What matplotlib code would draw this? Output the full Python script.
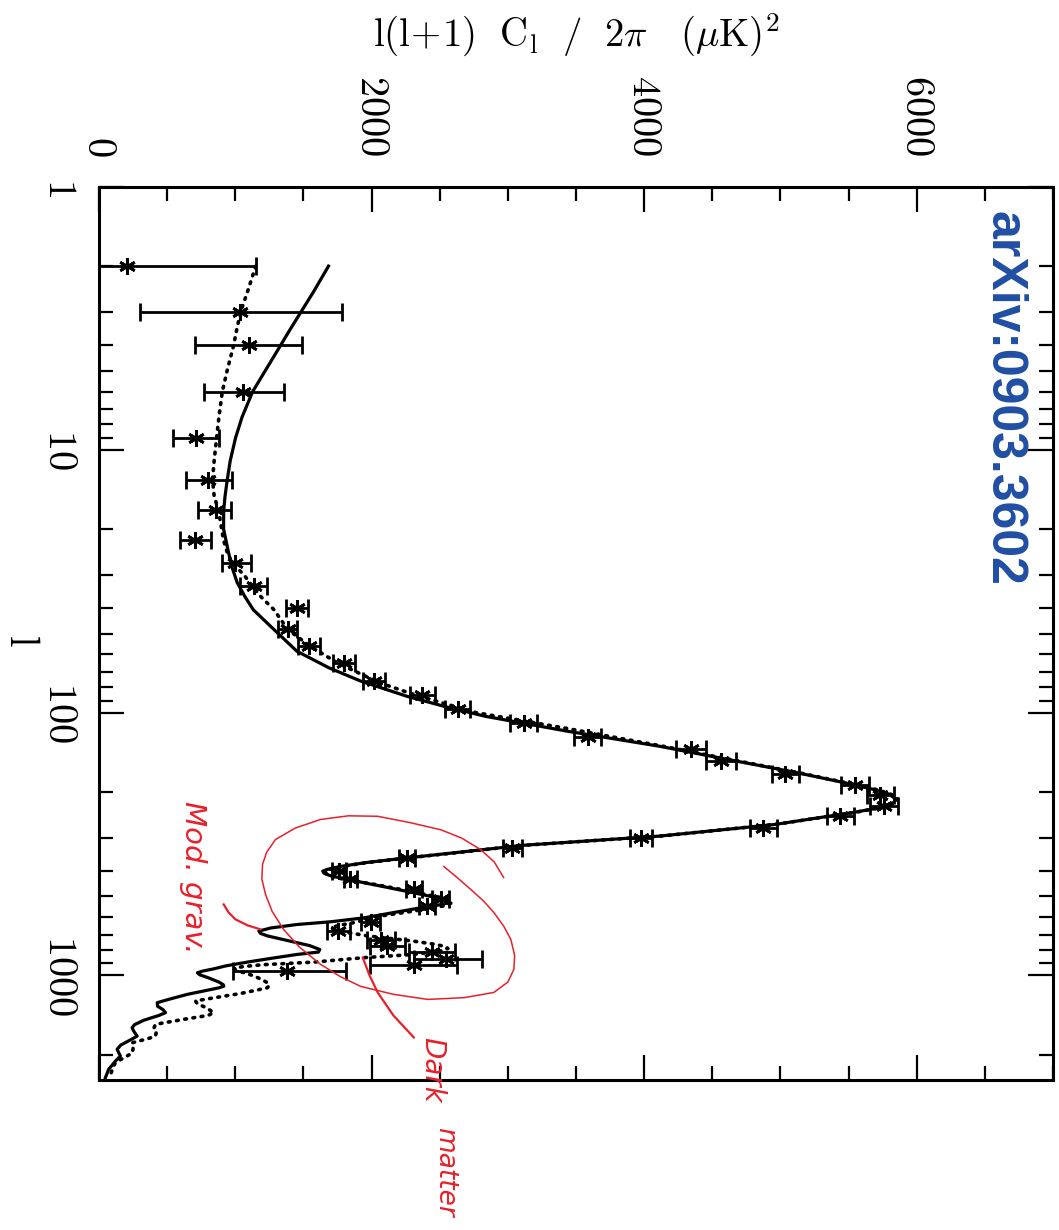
import numpy as np
import matplotlib
matplotlib.use('Agg')
import matplotlib.pyplot as plt
from matplotlib.ticker import FixedLocator, MultipleLocator, FuncFormatter, NullFormatter

plt.rcParams['mathtext.fontset'] = 'cm'

W, H = 1059, 1230

# binned data points (l, l(l+1)Cl/2pi, lower / upper error)
data_l = [2, 3, 4, 6, 9, 13, 17, 22, 27, 33,
          40, 48, 56, 65, 76, 86, 97, 110, 124, 138,
          153, 171, 188, 205, 227, 248, 274, 300, 327, 357,
          401, 430, 471, 514, 545, 628, 678, 733, 776, 815,
          865, 910, 965]
data_c = [208, 1038, 1097, 1053, 715, 803, 855, 708, 1001, 1134,
          1452, 1385, 1543, 1796, 2016, 2373, 2632, 3115, 3586, 4345,
          4564, 5036, 5548, 5733, 5760, 5440, 4874, 3974, 3034, 2262,
          1760, 1845, 2310, 2507, 2409, 1993, 1755, 2070, 2115, 2444,
          2543, 2310, 1381]
err_lo = [208, 734, 389, 286, 169, 161, 125, 110, 95, 96,
          80, 70, 80, 80, 80, 90, 90, 100, 100, 110,
          110, 100, 100, 100, 100, 100, 100, 80, 70, 60,
          50, 50, 60, 60, 60, 70, 85, 100, 130, 170,
          230, 320, 400]
err_hi = [942, 742, 396, 308, 169, 176, 110, 117, 111, 102,
          80, 70, 80, 80, 80, 90, 90, 100, 100, 110,
          110, 100, 100, 100, 100, 100, 100, 80, 70, 60,
          50, 50, 60, 60, 60, 70, 85, 100, 130, 170,
          270, 320, 430]

# solid model curve (modified gravity)
mg_l = [2, 2.5, 3, 3.5, 4, 5, 6, 7.5, 9, 11, 13, 15, 17, 20, 24, 28, 32, 36, 40.6, 48.3,
        58.4, 67.6, 76, 86.7, 94.6, 103.3, 117.8, 134.3, 151, 169.5, 187.7, 197, 205,
        213, 220, 230, 240, 266.5, 295, 320, 340, 357, 372, 385, 395, 401, 408, 418,
        431, 457, 485, 503, 514, 521, 530, 540, 553, 578, 604, 625, 640, 660, 678, 692,
        707, 741, 770, 797, 815, 832, 860, 890, 920, 944, 963, 977, 995, 1020, 1060,
        1085, 1098, 1115, 1140, 1180, 1230, 1270, 1310, 1350, 1386, 1420, 1480, 1540,
        1582, 1630, 1702, 1760, 1840, 1910, 1970, 2028, 2120, 2276, 2450]
mg_c = [1684, 1575, 1480, 1400, 1333, 1220, 1128, 1050, 1002, 963, 941, 925, 915, 914, 946,
        976, 1014, 1068, 1132, 1284, 1452, 1689, 1924, 2261, 2531, 2835, 3441, 4114, 4621,
        5127, 5531, 5700, 5801, 5845, 5832, 5730, 5531, 4958, 4114, 3104, 2640, 2262,
        1960, 1770, 1675, 1642, 1650, 1700, 1822, 2066, 2311, 2455, 2530, 2565, 2560,
        2490, 2360, 2150, 1943, 1700, 1454, 1260, 1173, 1185, 1234, 1405, 1545, 1620,
        1610, 1454, 1270, 1087, 930, 842, 760, 722, 740, 800, 880, 912, 916, 880, 790,
        650, 520, 427, 430, 470, 488, 440, 330, 260, 243, 255, 280, 230, 160, 133, 145,
        157, 120, 71, 47]

# dotted model curve (dark matter)
dm_l = [2, 2.5, 3, 3.5, 4, 5, 6, 7.5, 9, 11, 13, 15, 17, 20, 22, 25, 27, 30, 33, 36, 40.6,
        48.3, 56, 65, 77, 86, 100, 115, 134, 151, 170, 188, 197, 205, 213, 220, 230, 240,
        266, 295, 320, 340, 357, 372, 385, 395, 401, 410, 425, 457, 485, 503, 514, 522,
        532, 545, 569, 594, 630, 645, 658, 672, 707, 741, 762, 778, 790, 805, 832, 856,
        890, 910, 925, 939, 955, 975, 1004, 1040, 1070, 1090, 1115, 1172, 1220, 1250,
        1280, 1330, 1386, 1420, 1470, 1535, 1600, 1650, 1702, 1740, 1804, 1900, 1977,
        2060, 2148, 2250, 2400]
dm_c = [1150, 1090, 1038, 1010, 988, 940, 905, 880, 863, 845, 833, 845, 877, 900, 913, 945,
        980, 1065, 1125, 1183, 1284, 1385, 1552, 1756, 2059, 2330, 2767, 3439, 4130, 4640,
        5150, 5550, 5720, 5815, 5860, 5845, 5740, 5540, 4970, 4120, 3110, 2650, 2270,
        1970, 1780, 1690, 1660, 1665, 1740, 2090, 2340, 2490, 2560, 2590, 2580, 2520,
        2310, 2066, 1869, 1760, 1705, 1720, 1968, 2311, 2470, 2545, 2560, 2520, 2311,
        1943, 1576, 1209, 1060, 995, 1000, 1060, 1136, 1200, 1240, 1250, 1235, 1038, 830,
        708, 720, 790, 842, 800, 620, 414, 400, 420, 414, 360, 243, 250, 243, 180, 120,
        100, 84]

# hand drawn loop around the acoustic peaks
loop_l = [424, 370, 332, 300, 279, 262, 248, 247, 255, 275, 304, 340, 378, 430, 492, 570,
          668, 780, 908, 1010, 1101, 1180, 1234, 1215, 1161, 1060, 948, 840, 730, 650,
          576, 520, 471, 425, 385]
loop_c = [2969, 2900, 2800, 2660, 2507, 2280, 2044, 1830, 1626, 1440, 1295, 1230, 1200, 1195, 1222, 1270,
          1354, 1470, 1626, 1770, 1920, 2160, 2412, 2680, 2897, 3000, 3044, 3050, 3022, 2970,
          2897, 2820, 2728, 2630, 2530]
ptr_mg_l = [537, 575, 612, 645, 668]
ptr_mg_c = [915, 950, 1001, 1090, 1185]
ptr_dm_l = [855, 1000, 1161, 1420, 1722]
ptr_dm_c = [1935, 1985, 2045, 2160, 2310]

red = '#e8202a'

fig = plt.figure(figsize=(W / 100, H / 100), dpi=100)
ax = fig.add_axes([99 / W, 1 - 1080 / H, 954 / W, 893 / H])

ax.plot(mg_c, mg_l, color='k', lw=2.3, solid_joinstyle='round')
ax.plot(dm_c, dm_l, color='k', lw=2.6, ls=(0, (0.5, 1.8)), dash_capstyle='round')
ax.errorbar(data_c, data_l, xerr=[err_lo, err_hi], fmt='none', ecolor='k',
            elinewidth=2.0, capsize=6.5, capthick=2.0)
ax.plot(data_c, data_l, ls='none', marker=(6, 2, 0), ms=12, mew=2.0, color='k')

ax.plot(loop_c, loop_l, color=red, lw=1.1)
ax.plot(ptr_mg_c, ptr_mg_l, color=red, lw=1.6)
ax.plot(ptr_dm_c, ptr_dm_l, color=red, lw=1.6)

ax.set_xlim(0, 7000)
ax.set_yscale('log')
ax.set_ylim(2500, 1)

ax.xaxis.set_major_locator(FixedLocator([0, 2000, 4000, 6000]))
ax.xaxis.set_minor_locator(MultipleLocator(500))
ax.xaxis.set_major_formatter(FuncFormatter(lambda v, p: '$%d$' % v))
ax.yaxis.set_major_locator(FixedLocator([1, 10, 100, 1000]))
ax.yaxis.set_minor_locator(FixedLocator([m * 10 ** k for k in range(4) for m in range(2, 10)]))
ax.yaxis.set_major_formatter(FuncFormatter(lambda v, p: '$%d$' % v))
ax.yaxis.set_minor_formatter(NullFormatter())

ax.tick_params(which='both', direction='in', top=True, bottom=True, left=True, right=True,
               labeltop=True, labelbottom=False, labelsize=29, colors='k')
ax.tick_params(which='major', length=18, width=1.6)
ax.tick_params(which='minor', length=10, width=1.6)
ax.tick_params(axis='x', labelrotation=-90, pad=22)
ax.tick_params(axis='y', labelrotation=-90, pad=14)
for lab in ax.get_yticklabels():
    lab.set_va('center')
for s in ax.spines.values():
    s.set_linewidth(2.2)

def fx(px):
    return px / W

def fy(py):
    return 1 - py / H

fig.text(fx(576), fy(35), r'$\mathrm{l(l\!+\!1)\ \ C_l\ \ /\ \ 2}\pi\ \ \ (\mu\mathrm{K})^2$',
         fontsize=28, ha='center', va='center')
fig.text(fx(22), fy(640), r'$\mathrm{l}$', fontsize=30, rotation=-90, ha='center', va='center')

fig.text(fx(1003), fy(398), 'arXiv:0903.3602', family=['Liberation Sans', 'DejaVu Sans'],
         fontsize=36, fontweight='bold', color='#1f4ea3', rotation=-90, ha='center', va='center')

hand = dict(family=['Liberation Sans Narrow', 'DejaVu Sans'], style='italic', color=red,
            rotation=-90, ha='center', va='center')
fig.text(fx(193), fy(877), 'Mod. grav.', fontsize=21, **hand)
fig.text(fx(432), fy(1070), 'Dark', fontsize=20, **hand)
fig.text(fx(445), fy(1172), 'matter', fontsize=19, **hand)

fig.savefig('out.png', dpi=100, facecolor='white')
